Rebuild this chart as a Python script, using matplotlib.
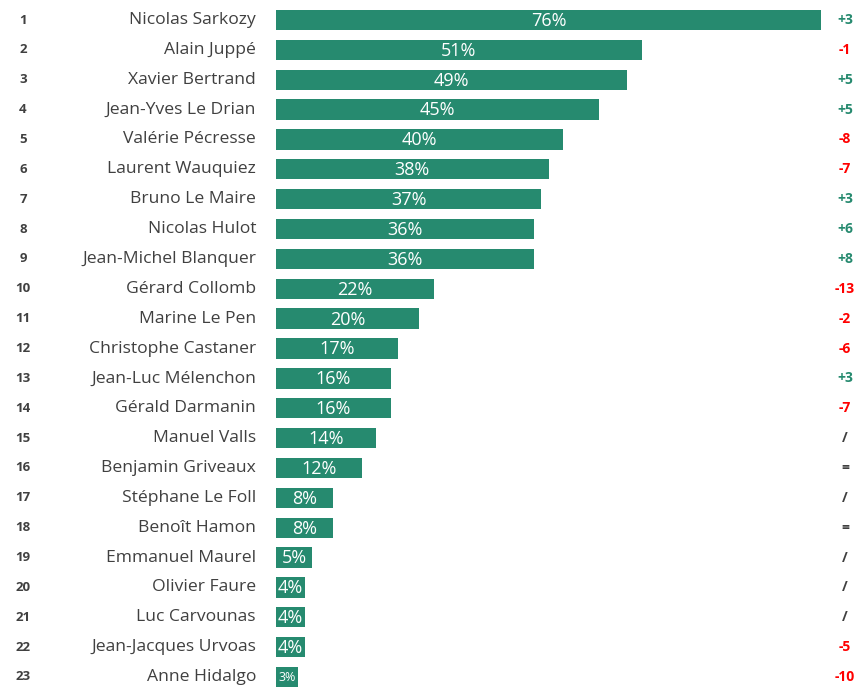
import matplotlib
matplotlib.use("Agg")
import matplotlib.pyplot as plt

names = ["Nicolas Sarkozy", "Alain Juppé", "Xavier Bertrand", "Jean-Yves Le Drian",
         "Valérie Pécresse", "Laurent Wauquiez", "Bruno Le Maire", "Nicolas Hulot",
         "Jean-Michel Blanquer", "Gérard Collomb", "Marine Le Pen", "Christophe Castaner",
         "Jean-Luc Mélenchon", "Gérald Darmanin", "Manuel Valls", "Benjamin Griveaux",
         "Stéphane Le Foll", "Benoît Hamon", "Emmanuel Maurel", "Olivier Faure",
         "Luc Carvounas", "Jean-Jacques Urvoas", "Anne Hidalgo"]
values = [76, 51, 49, 45, 40, 38, 37, 36, 36, 22, 20, 17, 16, 16, 14, 12, 8, 8, 5, 4, 4, 4, 3]
changes = ["+3", "-1", "+5", "+5", "-8", "-7", "+3", "+6", "+8", "-13", "-2", "-6", "+3",
           "-7", "/", "=", "/", "=", "/", "/", "/", "-5", "-10"]

GREEN = "#268a6f"
RED = "#ff0000"
GRAY = "#404040"
FONT = ["Open Sans", "DejaVu Sans"]

W, H = 859, 687
fig = plt.figure(figsize=(W / 100, H / 100), dpi=100)
x0, x1 = 276, 821
ax = fig.add_axes([x0 / W, 0, (x1 - x0) / W, 1])
ax.set_xlim(0, 76)
ax.set_ylim(23.335, 0.33)
ax.axis("off")

ranks = list(range(1, len(names) + 1))
ax.barh(ranks, values, height=0.68, color=GREEN)

px = 76 / (x1 - x0)  # data units per pixel
for r, n, v, c in zip(ranks, names, values, changes):
    ax.text(-20 * px, r, n, ha="right", va="center", fontsize=12.6, color=GRAY, family=FONT)
    ax.text(-253 * px, r, str(r), ha="center", va="center", fontsize=9.5, color=GRAY,
            fontweight="bold", family=FONT)
    fs = 13 if v > 3 else 9
    ax.text(v / 2, r + 0.03, f"{v}%", ha="center", va="center", fontsize=fs, color="white",
            family=FONT)
    if c.startswith("+"):
        col = GREEN
    elif c.startswith("-"):
        col = RED
    else:
        col = GRAY
    ax.text(24 * px + 76, r, c, ha="center", va="center", fontsize=10, color=col,
            fontweight="bold", family=FONT)

fig.savefig("out.png", dpi=100)
